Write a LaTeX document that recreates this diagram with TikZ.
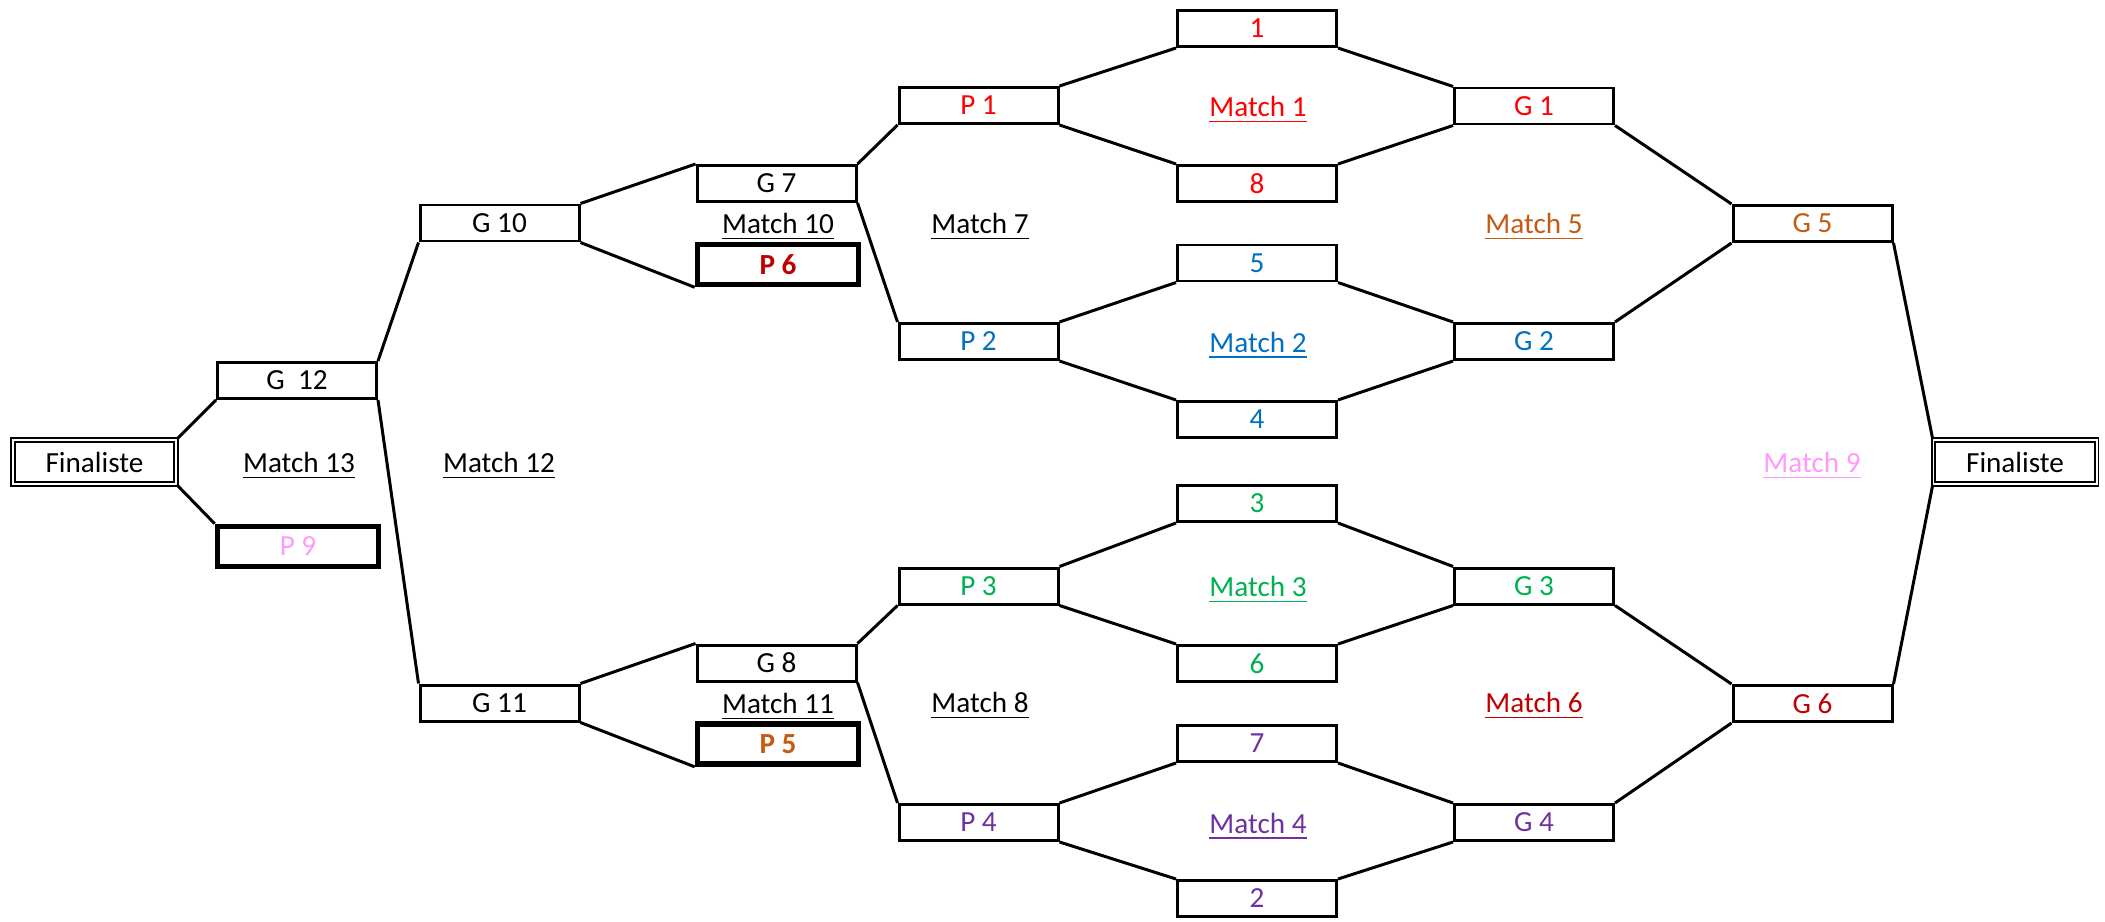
\documentclass[tikz,border=0pt]{standalone}
\usepackage{fontspec}
\setmainfont{Carlito}
\usepackage{tikz}
\definecolor{rouge}{RGB}{255,0,0}
\definecolor{bleu}{RGB}{0,112,192}
\definecolor{vert}{RGB}{0,176,80}
\definecolor{mauve}{RGB}{112,48,160}
\definecolor{orangec}{RGB}{197,90,17}
\definecolor{rougef}{RGB}{192,0,0}
\definecolor{rose}{RGB}{255,153,255}

\begin{document}
\begin{tikzpicture}[font=\fontsize{8.3}{10}\selectfont,
    case/.style={draw, line width=0.85pt, minimum width=1.59cm, minimum height=0.36cm, inner sep=0pt},
    casegras/.style={draw, line width=1.6pt, minimum width=1.61cm, minimum height=0.40cm, inner sep=0pt},
    finale/.style={draw, double, line width=0.45pt, double distance=0.55pt, minimum width=1.63cm, minimum height=0.44cm, inner sep=0pt},
    trait/.style={line width=0.85pt}]
    \useasboundingbox (0,0) rectangle (21.05,-9.21);

    % finalistes
    \node[finale] (fg) at (0.945,-4.62) {Finaliste};
    \node[finale] (fd) at (20.15,-4.62) {Finaliste};

    % tableau de gauche
    \node[case] (g12) at (2.97,-3.805) {G\ \ 12};
    \node[casegras, text=rose] (p9) at (2.98,-5.465) {P 9};
    \node[case] (g10) at (4.995,-2.23) {G 10};
    \node[case] (g11) at (4.995,-7.03) {G 11};
    \node[case] (g7) at (7.765,-1.835) {G 7};
    \node[casegras, text=rougef, font=\fontsize{8.3}{10}\selectfont\bfseries] (p6) at (7.78,-2.645) {P 6};
    \node[case] (g8) at (7.765,-6.63) {G 8};
    \node[casegras, text=orangec, font=\fontsize{8.3}{10}\selectfont\bfseries] (p5) at (7.78,-7.44) {P 5};

    % perdants du premier tour
    \node[case, text=rouge] (p1) at (9.785,-1.055) {P 1};
    \node[case, text=bleu] (p2) at (9.785,-3.415) {P 2};
    \node[case, text=vert] (p3) at (9.785,-5.86) {P 3};
    \node[case, text=mauve] (p4) at (9.785,-8.225) {P 4};

    % tetes de serie
    \node[case, text=rouge] (s1) at (12.57,-0.285) {1};
    \node[case, text=rouge] (s8) at (12.57,-1.835) {8};
    \node[case, text=bleu] (s5) at (12.57,-2.63) {5};
    \node[case, text=bleu] (s4) at (12.57,-4.195) {4};
    \node[case, text=vert] (s3) at (12.57,-5.035) {3};
    \node[case, text=vert] (s6) at (12.57,-6.635) {6};
    \node[case, text=mauve] (s7) at (12.57,-7.435) {7};
    \node[case, text=mauve] (s2) at (12.57,-8.985) {2};

    % gagnants
    \node[case, text=rouge] (g1) at (15.34,-1.06) {G 1};
    \node[case, text=bleu] (g2) at (15.34,-3.415) {G 2};
    \node[case, text=vert] (g3) at (15.34,-5.86) {G 3};
    \node[case, text=mauve] (g4) at (15.34,-8.225) {G 4};
    \node[case, text=orangec] (g5) at (18.125,-2.235) {G 5};
    \node[case, text=rougef] (g6) at (18.125,-7.035) {G 6};

    % noms des matchs
    \node[text=rouge] at (12.58,-1.10) {\underline{Match 1}};
    \node[text=bleu] at (12.58,-3.455) {\underline{Match 2}};
    \node[text=vert] at (12.58,-5.90) {\underline{Match 3}};
    \node[text=mauve] at (12.58,-8.265) {\underline{Match 4}};
    \node[text=orangec] at (15.34,-2.27) {\underline{Match 5}};
    \node[text=rougef] at (15.34,-7.06) {\underline{Match 6}};
    \node at (9.80,-2.27) {\underline{Match 7}};
    \node at (9.80,-7.06) {\underline{Match 8}};
    \node[text=rose] at (18.12,-4.66) {\underline{Match 9}};
    \node at (7.78,-2.27) {\underline{Match 10}};
    \node at (7.78,-7.07) {\underline{Match 11}};
    \node at (4.99,-4.66) {\underline{Match 12}};
    \node at (2.99,-4.66) {\underline{Match 13}};

    % liaisons
    \draw[trait] (fg.north east) -- (g12.south west);
    \draw[trait] (fg.south east) -- (p9.north west);
    \draw[trait] (g12.north east) -- (g10.south west);
    \draw[trait] (g12.south east) -- (g11.north west);
    \draw[trait] (g10.north east) -- (g7.north west);
    \draw[trait] (g10.south east) -- (p6.south west);
    \draw[trait] (g11.north east) -- (g8.north west);
    \draw[trait] (g11.south east) -- (p5.south west);
    \draw[trait] (g7.north east) -- (p1.south west);
    \draw[trait] (g7.south east) -- (p2.north west);
    \draw[trait] (g8.north east) -- (p3.south west);
    \draw[trait] (g8.south east) -- (p4.north west);
    \foreach \p/\h/\b/\g in {p1/s1/s8/g1, p2/s5/s4/g2, p3/s3/s6/g3, p4/s7/s2/g4} {
        \draw[trait] (\p.north east) -- (\h.south west);
        \draw[trait] (\p.south east) -- (\b.north west);
        \draw[trait] (\h.south east) -- (\g.north west);
        \draw[trait] (\b.north east) -- (\g.south west);
    }
    \draw[trait] (g1.south east) -- (g5.north west);
    \draw[trait] (g2.north east) -- (g5.south west);
    \draw[trait] (g3.south east) -- (g6.north west);
    \draw[trait] (g4.north east) -- (g6.south west);
    \draw[trait] (g5.south east) -- (fd.north west);
    \draw[trait] (g6.north east) -- (fd.south west);
\end{tikzpicture}
\end{document}
